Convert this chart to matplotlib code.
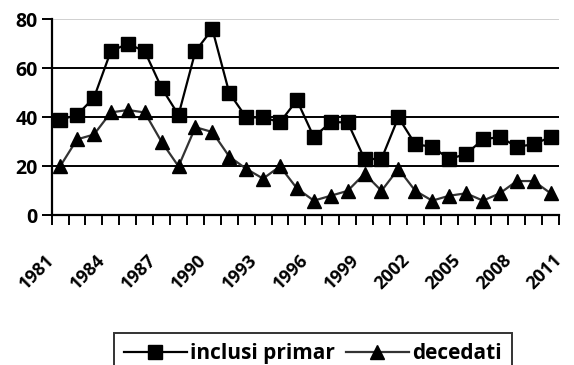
import matplotlib.pyplot as plt
import numpy as np

# date
ani = list(range(1981, 2012))  # etichete pe axa x (granitele categoriilor)
inclusi_primar = [39, 41, 48, 67, 70, 67, 52, 41, 67, 76, 50, 40, 40, 38, 47,
                  32, 38, 38, 23, 23, 40, 29, 28, 23, 25, 31, 32, 28, 29, 32]
decedati = [20, 31, 33, 42, 43, 42, 30, 20, 36, 34, 24, 19, 15, 20, 11,
            6, 8, 10, 17, 10, 19, 10, 6, 8, 9, 6, 9, 14, 14, 9]
y_ticks = [0, 20, 40, 60, 80]

plt.rcParams['font.family'] = ['Open Sans', 'DejaVu Sans']
plt.rcParams['font.weight'] = 'bold'

fig = plt.figure(figsize=(5.74, 3.65), dpi=100)
ax = fig.add_axes([0.090, 0.410, 0.884, 0.537])

x = np.arange(len(inclusi_primar)) + 0.5

# linii orizontale de grila
for v in y_ticks[1:-1]:
    ax.axhline(v, color='black', lw=1.4, zorder=1)
ax.axhline(y_ticks[-1], color='#c8c8c8', lw=1.2, zorder=1)

ax.plot(x, inclusi_primar, color='black', lw=1.6, marker='s', ms=10,
        mfc='black', mec='black', label='inclusi primar', zorder=3)
ax.plot(x, decedati, color='#333333', lw=1.6, marker='^', ms=10,
        mfc='black', mec='black', label='decedati', zorder=3)

ax.set_xlim(0, len(ani) - 1)
ax.set_ylim(0, 80)
ax.set_yticks(y_ticks)
ax.set_xticks(np.arange(len(ani)))
ax.set_xticklabels([str(a) if i % 3 == 0 else '' for i, a in enumerate(ani)],
                   rotation=45, ha='right', va='center', rotation_mode='anchor',
                   fontsize=13, fontweight='bold')
for lbl in ax.get_yticklabels():
    lbl.set_fontsize(14)
    lbl.set_fontweight('bold')

ax.tick_params(axis='both', direction='out', length=7, width=1.4, color='black')
ax.tick_params(axis='x', pad=23)
ax.tick_params(axis='y', pad=3)

for s in ['top', 'right']:
    ax.spines[s].set_visible(False)
for s in ['left', 'bottom']:
    ax.spines[s].set_linewidth(1.6)
    ax.spines[s].set_color('black')

leg = fig.legend(loc='upper left', bbox_to_anchor=(0.198, 0.088), ncol=2,
                 frameon=True, fancybox=False, edgecolor='black',
                 prop={'size': 15, 'weight': 'bold'}, handlelength=3.0,
                 handletextpad=0.15, columnspacing=0.55, borderpad=0.5,
                 borderaxespad=0)
leg.get_frame().set_linewidth(1.4)

fig.savefig('out.png', dpi=100)
